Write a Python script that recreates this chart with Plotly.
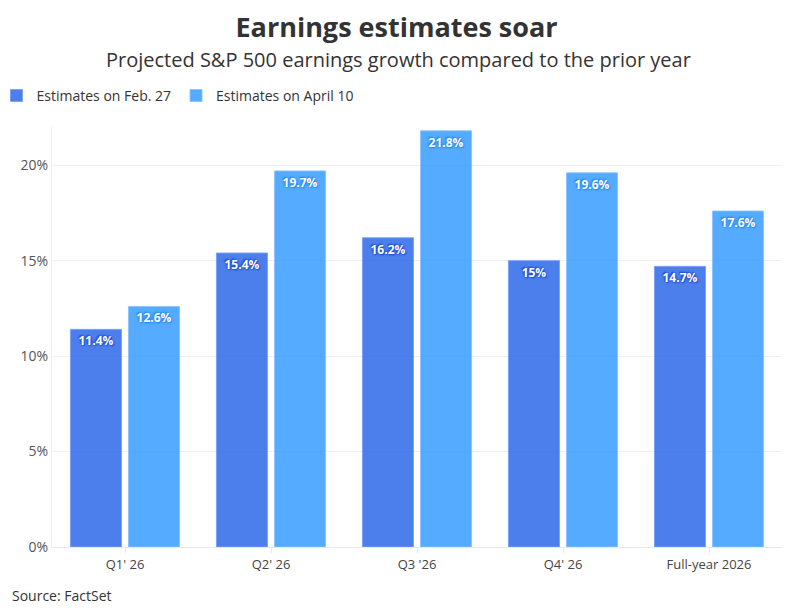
import plotly.graph_objects as go

categories = ["Q1' 26", "Q2' 26", "Q3 '26", "Q4' 26", "Full-year 2026"]
feb27 = [11.4, 15.4, 16.2, 15.0, 14.7]
apr10 = [12.6, 19.7, 21.8, 19.6, 17.6]
feb27_labels = ["11.4%", "15.4%", "16.2%", "15%", "14.7%"]
apr10_labels = ["12.6%", "19.7%", "21.8%", "19.6%", "17.6%"]
y_ticks = [0, 5, 10, 15, 20]
y_ticktext = ["0%", "5%", "10%", "15%", "20%"]

FONT = "Open Sans"

fig = go.Figure()

fig.add_trace(go.Bar(
    x=categories, y=feb27, name="Estimates on Feb. 27",
    text=feb27_labels, textposition="inside", insidetextanchor="end",
    textangle=0,
    textfont=dict(family=FONT, size=12, color="white", weight="bold",
                  shadow="1px 1px 2px #1040d0, -1px -1px 2px #1040d0"),
    marker=dict(color="rgba(23,88,230,0.77)",
                line=dict(color="rgba(120,160,245,0.9)", width=1)),
))
fig.add_trace(go.Bar(
    x=categories, y=apr10, name="Estimates on April 10",
    text=apr10_labels, textposition="inside", insidetextanchor="end",
    textangle=0,
    textfont=dict(family=FONT, size=12, color="white", weight="bold",
                  shadow="1px 1px 2px #1a80f0, -1px -1px 2px #1a80f0"),
    marker=dict(color="rgba(42,150,255,0.8)",
                line=dict(color="rgba(140,195,255,0.9)", width=1)),
))

fig.update_layout(
    width=793, height=612,
    paper_bgcolor="white", plot_bgcolor="white",
    font=dict(family=FONT, color="#444"),
    margin=dict(l=52, r=11, t=127, b=65, autoexpand=False),
    bargap=0.205, bargroupgap=0.12,
    title=dict(
        text="<b>Earnings estimates soar</b>",
        x=0.5, xanchor="center", y=0.955, yanchor="middle",
        font=dict(family=FONT, size=27, color="#333"),
    ),
    legend=dict(
        orientation="h", x=-0.076, xanchor="left", y=1.074, yanchor="middle",
        font=dict(family=FONT, size=14, color="#333"),
        itemwidth=30, traceorder="normal",
    ),
    uniformtext=dict(minsize=10, mode="show"),
)

# subtitle centred on the page, not on the plot area
fig.add_annotation(
    text="Projected S&P 500 earnings growth compared to the prior year",
    xref="paper", yref="paper", x=0.474, y=1.16, xanchor="center", yanchor="middle",
    showarrow=False, font=dict(family=FONT, size=20, color="#333"),
)
fig.add_annotation(
    text="Source: FactSet",
    xref="paper", yref="paper", x=-0.057, y=-0.116, xanchor="left", yanchor="middle",
    showarrow=False, font=dict(family=FONT, size=14, color="#333"),
)

fig.update_xaxes(
    showline=True, linecolor="#e8e8e8", linewidth=1,
    ticks="outside", ticklen=5, tickcolor="#e8e8e8",
    tickfont=dict(family=FONT, size=13, color="#444"),
    showgrid=False, automargin=False,
)
fig.update_yaxes(
    range=[0, 22], tickvals=y_ticks, ticktext=y_ticktext,
    showgrid=True, gridcolor="#efefef", gridwidth=1,
    showline=True, linecolor="#efefef", linewidth=1,
    zeroline=False, automargin=False,
    tickfont=dict(family=FONT, size=14, color="#555"),
)

fig.write_html("out.html", config={"displayModeBar": False},
               post_script="document.body.style.margin='0px';")
